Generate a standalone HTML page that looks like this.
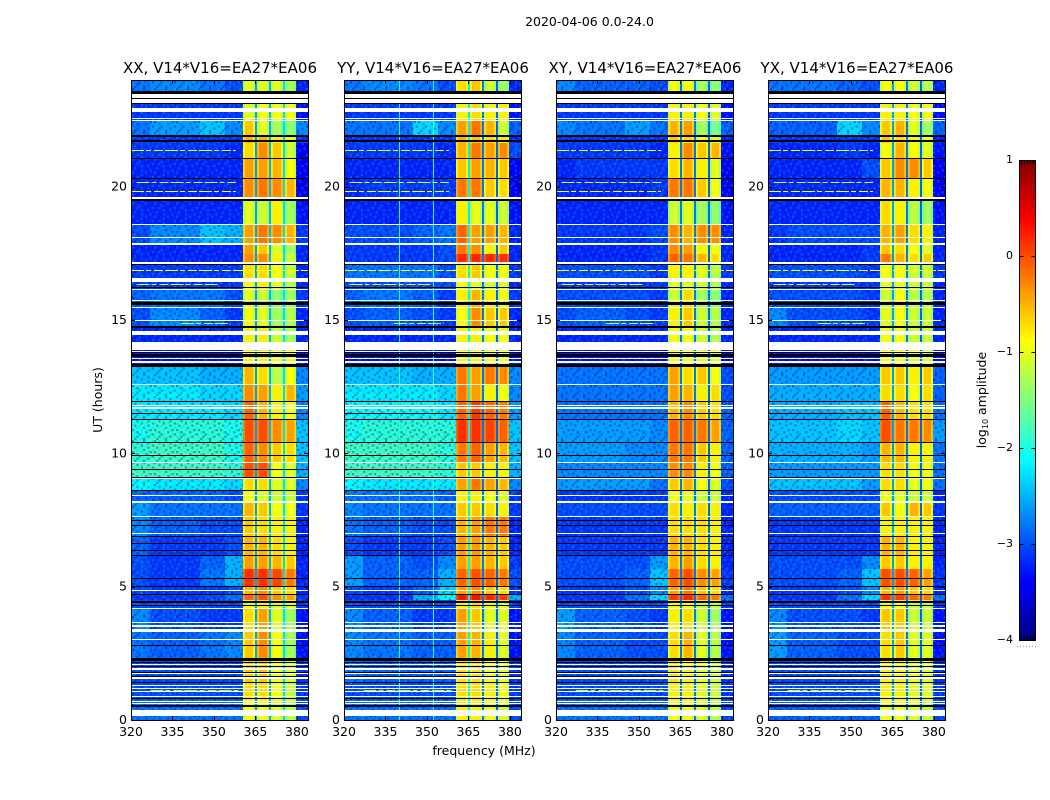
<!DOCTYPE html>
<html lang="en">
<head>
<meta charset="utf-8">
<title>2020-04-06 0.0-24.0</title>
<style>
html,body{margin:0;padding:0;background:#fff;}
svg{display:block;}
text{font-family:"DejaVu Sans","Liberation Sans",sans-serif;fill:#000;}
</style>
</head>
<body>
<svg id="fig" xmlns="http://www.w3.org/2000/svg" width="1050" height="800" viewBox="0 0 1050 800">
<defs>
<pattern id="speckle" width="22" height="22" patternUnits="userSpaceOnUse"></pattern>
<linearGradient id="jet-gradient" x1="0" y1="1" x2="0" y2="0"></linearGradient>
</defs>
<rect x="0" y="0" width="1050" height="800" fill="#fff"/>
<text x="589.5" y="26" font-size="12.5" text-anchor="middle">2020-04-06 0.0-24.0</text>
<text x="484" y="755" font-size="12.5" text-anchor="middle">frequency (MHz)</text>
<text x="102" y="400" font-size="12.5" text-anchor="middle" transform="rotate(-90 102 400)">UT (hours)</text>
<text x="986" y="400" font-size="12.5" text-anchor="middle" transform="rotate(-90 986 400)">log<tspan font-size="8" dy="2">10</tspan><tspan dy="-2"> amplitude</tspan></text>
<g id="panels"></g>
<g id="colorbar"></g>
</svg>
<script>
// ---------- chart data (hours, MHz, log10 amplitude) ----------
const panelTitles = ["XX, V14*V16=EA27*EA06", "YY, V14*V16=EA27*EA06", "XY, V14*V16=EA27*EA06", "YX, V14*V16=EA27*EA06"];
const xTicks = [320, 335, 350, 365, 380];
const yTicks = [0, 5, 10, 15, 20];
const colorbarTicks = [1, 0, -1, -2, -3, -4];
const utEdges = [24,23.59,23.14,22.46,21.9,21.64,21.08,20.29,19.5,18.6,17.85,17.48,17.18,16.58,16.16,15.49,14.74,14.18,13.24,12.56,11.93,11.29,10.39,9.68,9.08,8.59,8.18,7.61,6.9,6.19,5.66,4.99,4.71,4.5,4.2,3.34,2.25,1.43,0.75,0];
// frequency columns: four low-band blocks, four sub-bands, high band
const freqColumns = [[320,327],[327,345],[345,354],[354,360.4],[360.4,364.8],[365.5,369.9],[370.6,374.9],[375.6,379.7],[379.7,384]];
const notchColumns = [[364.8,365.5],[369.9,370.6],[374.9,375.6]];
const notchXX = [-2.6,-2.5,-2.3];
const notchYY = [-2.2,-2.8,-2.9];
const notchXY = [-2.8,-2.8,-2.9];
const notchYX = [-2.6,-2.8,-2.9];
const panelNotches = [notchXX, notchYY, notchXY, notchYX];

const levelsXX = [
[-2.8,-2.7,-2.8,-3.0,-1.0,-1.0,-1.0,-1.3,-3.2],
[-3.1,-3.1,-3.1,-3.1,-0.9,-0.9,-0.9,-1.0,-3.3],
[-3.1,-3.1,-3.1,-3.1,-1.0,-0.9,-0.9,-0.9,-3.3],
[-2.8,-2.6,-2.4,-2.7,-0.6,-1.0,-1.3,-1.4,-2.7],
[-3.1,-3.1,-3.1,-3.1,-0.5,-0.5,-0.8,-1.0,-3.1],
[-3.1,-3.1,-3.1,-3.2,-0.7,-0.3,-0.6,-1.1,-3.4],
[-3.2,-3.2,-3.2,-3.2,-0.4,-0.4,-0.5,-0.9,-3.4],
[-3.2,-3.2,-3.2,-3.2,-0.3,-0.2,-0.3,-0.5,-3.4],
[-3.2,-3.2,-3.2,-3.2,-1.0,-1.1,-0.8,-1.3,-3.3],
[-3.0,-2.7,-2.4,-2.5,-0.4,-0.2,-0.3,-0.5,-3.1],
[-3.2,-3.2,-3.2,-3.2,-0.4,-0.6,-1.0,-1.3,-3.2],
[-3.2,-3.2,-3.2,-3.2,-0.3,-0.3,-0.8,-1.1,-3.2],
[-3.1,-3.1,-3.1,-3.1,-0.7,-0.7,-0.9,-1.1,-3.2],
[-3.1,-3.1,-3.1,-3.1,-0.9,-0.8,-1.0,-1.2,-3.2],
[-2.9,-2.8,-2.8,-3.0,-1.0,-1.1,-1.4,-1.3,-3.1],
[-3.0,-2.7,-2.9,-3.1,-0.9,-1.0,-1.3,-1.2,-3.2],
[-3.2,-3.2,-3.2,-3.2,-0.8,-0.8,-1.1,-1.3,-3.2],
[-3.3,-3.3,-3.3,-3.3,-0.8,-0.8,-0.9,-0.9,-3.3],
[-2.4,-2.4,-2.5,-2.5,-0.5,-0.7,-1.2,-0.9,-2.7],
[-2.2,-2.2,-2.3,-2.3,-0.3,-0.4,-0.8,-0.5,-2.6],
[-2.2,-2.2,-2.2,-2.3,-0.1,-0.5,-0.8,-0.9,-2.7],
[-2.0,-1.9,-1.9,-2.0,0.0,0.0,-0.3,-0.4,-2.4],
[-1.9,-1.8,-1.8,-2.0,-0.1,-0.3,-0.6,-0.7,-2.4],
[-1.8,-1.8,-1.8,-1.9,0.0,0.0,-0.9,-1.0,-2.5],
[-2.1,-2.2,-2.2,-2.3,-0.7,-0.7,-1.0,-1.0,-2.7],
[-2.9,-2.9,-2.9,-3.0,-0.9,-1.0,-1.1,-1.1,-3.1],
[-2.6,-2.8,-2.8,-2.8,-0.5,-0.6,-0.9,-0.9,-3.1],
[-2.7,-2.9,-3.0,-3.0,-0.6,-0.7,-0.8,-0.8,-3.2],
[-2.9,-3.1,-3.1,-3.0,-0.5,-0.5,-0.7,-0.8,-3.2],
[-3.0,-3.1,-2.9,-2.5,-0.4,-0.4,-0.5,-0.6,-3.2],
[-3.0,-3.1,-2.8,-2.5,0.15,0.15,0.05,-0.2,-3.2],
[-3.0,-3.1,-3.1,-3.0,-0.5,-0.3,-0.6,-0.7,-3.2],
[-3.1,-3.1,-3.0,-2.8,-0.1,0.0,-0.3,-0.4,-3.1],
[-3.0,-3.0,-3.0,-3.0,-0.9,-0.8,-1.0,-1.0,-3.1],
[-2.7,-3.0,-3.1,-3.1,-0.7,-0.4,-1.0,-1.3,-3.3],
[-2.8,-2.9,-2.8,-2.7,-0.6,-0.3,-0.9,-1.3,-3.3],
[-3.0,-3.0,-3.0,-3.0,-0.6,-0.6,-0.9,-1.0,-3.1],
[-3.0,-3.0,-3.0,-3.0,-0.7,-0.7,-0.9,-1.1,-3.1],
[-2.8,-2.8,-2.8,-2.8,-0.9,-0.9,-1.0,-1.2,-3.0]
];
const levelsYY = [
[-2.8,-2.7,-2.8,-3.0,-0.7,-0.6,-1.1,-1.3,-3.2],
[-3.1,-3.1,-3.1,-3.1,-0.8,-0.8,-0.9,-1.0,-3.3],
[-3.1,-3.1,-3.1,-3.1,-0.8,-0.7,-0.8,-0.8,-3.3],
[-2.8,-2.8,-2.3,-2.7,-0.4,-0.2,-0.5,-1.1,-2.9],
[-3.1,-3.1,-3.1,-3.1,-0.5,-0.6,-0.7,-0.8,-3.2],
[-3.1,-3.1,-3.1,-3.2,-0.5,-0.2,-0.4,-0.3,-3.0],
[-3.2,-3.2,-3.2,-3.2,-0.6,-0.4,-0.5,-0.6,-3.4],
[-3.2,-3.1,-3.1,-3.1,-0.2,-0.2,-0.6,-0.7,-3.4],
[-3.2,-3.2,-3.2,-3.2,-0.8,-1.0,-1.0,-1.1,-3.3],
[-3.0,-3.0,-2.9,-2.8,-0.1,-0.4,-0.4,-0.5,-3.2],
[-3.1,-3.1,-3.1,-3.0,-0.2,-0.3,-0.8,-0.6,-3.2],
[-3.1,-3.1,-3.1,-3.0,0.2,0.2,0.2,0.15,-3.2],
[-2.8,-2.8,-2.8,-3.0,-0.7,-0.6,-0.9,-0.9,-3.1],
[-3.0,-3.0,-3.0,-3.0,-0.9,-1.0,-1.1,-1.0,-3.2],
[-2.9,-2.8,-2.9,-3.1,-0.8,-0.5,-0.8,-0.9,-3.1],
[-3.0,-2.9,-3.0,-3.1,-0.9,-0.3,-0.6,-0.6,-3.2],
[-3.2,-3.2,-3.2,-3.2,-0.8,-0.8,-0.9,-0.9,-3.2],
[-3.3,-3.3,-3.3,-3.3,-0.8,-0.8,-0.9,-0.9,-3.3],
[-2.4,-2.4,-2.5,-2.5,-0.2,-0.4,-0.2,-0.3,-2.7],
[-2.2,-2.2,-2.2,-2.3,-0.2,-0.4,-0.8,-0.9,-2.7],
[-2.1,-2.1,-2.1,-2.2,-0.1,0.1,-0.1,-0.2,-2.6],
[-2.0,-1.9,-1.9,-1.9,0.15,0.15,0.05,-0.1,-2.4],
[-1.8,-1.8,-1.8,-1.9,-0.2,-0.1,-0.4,-0.5,-2.4],
[-1.8,-1.8,-1.8,-1.9,-0.6,-0.6,-0.8,-0.8,-2.5],
[-2.1,-2.2,-2.2,-2.2,-0.4,-0.2,-0.4,-0.5,-2.7],
[-2.8,-2.8,-2.8,-2.9,-0.8,-0.8,-0.9,-1.0,-3.1],
[-2.7,-2.8,-2.8,-2.8,-0.6,-0.6,-0.7,-0.8,-3.1],
[-2.8,-2.9,-3.0,-3.0,-0.5,-0.4,-0.2,-0.2,-3.2],
[-3.0,-3.1,-3.1,-3.0,-0.4,-0.4,-0.5,-0.6,-3.2],
[-2.6,-2.9,-3.0,-2.7,-0.4,-0.4,-0.5,-0.6,-3.1],
[-2.6,-2.9,-2.9,-2.5,-0.1,0.0,-0.1,-0.2,-3.0],
[-3.0,-3.1,-2.9,-2.3,-0.4,-0.3,-0.6,-0.7,-3.1],
[-3.1,-3.1,-2.5,-2.1,0.3,0.3,0.2,0.1,-2.5],
[-3.0,-3.0,-3.0,-3.0,-0.8,-0.7,-0.9,-1.0,-3.1],
[-2.7,-2.9,-3.1,-3.1,-0.4,-0.6,-1.0,-1.0,-3.3],
[-2.7,-2.8,-2.9,-2.9,-0.4,-0.5,-0.8,-1.0,-3.3],
[-2.8,-2.9,-2.9,-2.9,-0.7,-0.7,-0.9,-1.0,-3.1],
[-3.0,-3.0,-3.0,-3.0,-0.7,-0.7,-0.8,-0.9,-3.1],
[-2.8,-2.8,-2.8,-2.8,-0.8,-0.8,-0.9,-1.0,-3.0]
];
const levelsXY = [
[-2.7,-2.9,-2.9,-3.0,-0.9,-0.9,-1.3,-1.4,-3.2],
[-3.1,-3.1,-3.1,-3.1,-0.9,-0.9,-1.0,-1.1,-3.3],
[-3.1,-3.1,-3.1,-3.1,-0.8,-0.8,-0.9,-1.0,-3.3],
[-2.7,-2.8,-2.6,-2.8,-0.5,-0.4,-1.3,-1.5,-2.9],
[-3.1,-3.1,-3.1,-3.1,-0.6,-0.7,-0.9,-1.0,-3.2],
[-3.1,-3.1,-3.1,-3.2,-0.8,-0.3,-0.6,-0.5,-3.3],
[-3.2,-3.1,-3.1,-3.1,-0.7,-0.5,-0.8,-1.0,-3.4],
[-3.2,-3.2,-3.2,-3.1,-0.2,-0.2,-0.6,-0.9,-3.4],
[-3.2,-3.2,-3.2,-3.2,-1.1,-1.0,-1.3,-1.4,-3.3],
[-3.1,-3.1,-3.1,-3.0,-0.3,-0.5,-0.3,-0.3,-3.2],
[-3.2,-3.2,-3.2,-3.1,-0.3,-0.4,-0.8,-0.9,-3.2],
[-3.2,-3.2,-3.2,-3.1,-0.1,-0.2,-0.5,-0.7,-3.2],
[-3.0,-3.0,-3.0,-3.1,-0.8,-0.8,-1.0,-1.2,-3.1],
[-3.1,-3.1,-3.1,-3.1,-1.0,-1.0,-1.1,-1.2,-3.2],
[-3.0,-3.0,-3.0,-3.1,-1.1,-0.7,-1.3,-1.4,-3.2],
[-3.0,-2.9,-3.0,-3.1,-0.8,-0.6,-1.1,-1.2,-3.2],
[-3.2,-3.2,-3.2,-3.2,-0.9,-0.9,-1.1,-1.2,-3.2],
[-3.3,-3.3,-3.3,-3.3,-0.9,-0.9,-1.0,-1.0,-3.3],
[-2.8,-2.8,-2.8,-2.8,-0.4,-0.7,-0.6,-0.9,-3.0],
[-2.8,-2.8,-2.8,-2.8,-0.4,-0.5,-0.8,-0.7,-3.0],
[-2.8,-2.8,-2.8,-2.8,-0.5,-0.3,-0.6,-0.7,-2.9],
[-2.6,-2.6,-2.6,-2.7,-0.1,-0.1,-0.2,-0.4,-2.9],
[-2.6,-2.6,-2.7,-2.7,-0.2,-0.2,-0.6,-0.8,-2.9],
[-2.7,-2.7,-2.7,-2.7,-0.3,-0.3,-0.8,-0.9,-2.9],
[-2.6,-2.6,-2.6,-2.8,-0.6,-0.5,-0.9,-1.0,-3.0],
[-3.1,-3.1,-3.1,-3.1,-0.9,-1.0,-1.1,-1.1,-3.2],
[-3.0,-3.0,-3.0,-3.0,-0.7,-0.8,-0.7,-0.8,-3.2],
[-3.1,-3.1,-3.1,-3.1,-0.7,-0.7,-0.7,-0.8,-3.2],
[-3.1,-3.1,-3.1,-3.1,-0.5,-0.5,-0.7,-0.8,-3.2],
[-3.0,-3.0,-3.0,-2.6,-0.5,-0.4,-0.7,-0.8,-3.2],
[-3.0,-3.0,-2.9,-2.4,-0.1,0.0,-0.3,-0.4,-3.1],
[-3.1,-3.1,-3.0,-2.7,-0.4,-0.2,-0.6,-0.7,-3.2],
[-3.1,-3.1,-2.8,-2.3,0.1,0.2,-0.1,-0.2,-2.8],
[-3.0,-3.0,-3.0,-3.0,-0.9,-0.9,-1.1,-1.1,-3.1],
[-2.6,-2.9,-3.0,-3.1,-0.8,-0.7,-1.1,-1.3,-3.3],
[-2.7,-2.9,-3.0,-3.0,-0.7,-0.5,-1.0,-1.2,-3.3],
[-3.0,-3.0,-3.0,-3.0,-0.7,-0.8,-1.0,-1.1,-3.1],
[-3.0,-3.0,-3.0,-3.0,-0.8,-0.8,-1.0,-1.1,-3.1],
[-2.8,-2.8,-2.8,-2.8,-0.9,-0.9,-1.0,-1.2,-3.0]
];
const levelsYX = [
[-2.8,-2.8,-2.9,-3.0,-0.9,-0.9,-1.1,-1.2,-3.2],
[-3.1,-3.1,-3.1,-3.1,-0.9,-0.9,-1.0,-1.0,-3.3],
[-3.1,-3.1,-3.1,-3.1,-0.8,-0.8,-0.9,-0.9,-3.3],
[-2.9,-2.9,-2.3,-2.7,-0.6,-0.5,-1.0,-1.3,-2.9],
[-3.1,-3.1,-3.1,-3.1,-0.6,-0.7,-0.9,-0.9,-3.2],
[-3.2,-3.2,-3.1,-3.2,-0.9,-0.5,-0.9,-1.0,-3.3],
[-3.2,-3.2,-3.2,-3.0,-0.6,-0.3,-0.3,-0.6,-3.4],
[-3.2,-3.2,-3.2,-3.2,-0.5,-0.5,-0.8,-0.9,-3.4],
[-3.2,-3.2,-3.2,-3.2,-0.7,-0.8,-1.2,-1.3,-3.3],
[-3.1,-3.0,-3.0,-3.0,-0.5,-0.4,-0.7,-0.8,-3.2],
[-3.2,-3.2,-3.2,-3.1,-0.6,-0.7,-0.9,-1.0,-3.2],
[-3.2,-3.2,-3.2,-3.1,-0.2,-0.5,-0.7,-0.6,-3.2],
[-3.0,-3.0,-3.0,-3.1,-0.9,-0.9,-1.1,-1.1,-3.1],
[-3.1,-3.1,-3.1,-3.1,-1.0,-1.0,-1.1,-1.1,-3.2],
[-3.0,-3.0,-3.0,-3.1,-1.1,-0.9,-1.2,-1.2,-3.2],
[-2.7,-3.0,-3.0,-3.1,-1.0,-0.9,-1.1,-1.1,-3.2],
[-3.2,-3.2,-3.2,-3.2,-0.9,-0.9,-1.1,-1.1,-3.2],
[-3.3,-3.3,-3.3,-3.3,-0.9,-0.9,-1.0,-1.0,-3.3],
[-2.6,-2.6,-2.6,-2.6,-0.6,-0.6,-0.8,-0.6,-2.9],
[-2.5,-2.5,-2.5,-2.5,-0.7,-0.7,-0.9,-0.7,-2.9],
[-2.5,-2.5,-2.4,-2.4,-0.1,-0.5,-0.7,-0.7,-2.8],
[-2.4,-2.4,-2.3,-2.4,0.0,-0.2,-0.2,-0.3,-2.6],
[-2.5,-2.5,-2.5,-2.6,-0.5,-0.5,-0.8,-0.8,-2.8],
[-2.6,-2.6,-2.6,-2.6,-0.7,-0.7,-0.9,-0.9,-2.8],
[-2.4,-2.4,-2.4,-2.6,-0.7,-0.7,-1.0,-0.9,-2.8],
[-3.0,-3.0,-3.0,-3.0,-0.9,-1.0,-1.1,-1.1,-3.2],
[-2.9,-2.9,-2.9,-2.9,-0.6,-0.9,-0.5,-0.6,-3.1],
[-3.1,-3.1,-3.1,-3.1,-0.8,-0.8,-0.8,-0.8,-3.2],
[-3.1,-3.1,-3.1,-3.1,-0.5,-0.5,-0.8,-0.8,-3.2],
[-3.0,-3.0,-3.0,-2.7,-0.6,-0.6,-0.8,-0.8,-3.2],
[-3.0,-3.0,-2.9,-2.4,0.0,0.0,-0.1,-0.4,-3.1],
[-3.1,-3.1,-3.0,-2.7,-0.5,-0.4,-0.6,-0.7,-3.2],
[-3.1,-3.1,-2.8,-2.3,0.15,0.1,-0.1,-0.2,-2.8],
[-3.0,-3.0,-3.0,-3.0,-0.9,-0.9,-1.1,-1.1,-3.1],
[-2.7,-3.0,-3.0,-3.1,-0.6,-0.6,-1.1,-1.1,-3.3],
[-2.6,-2.9,-3.0,-3.0,-0.7,-0.6,-1.0,-1.0,-3.3],
[-3.0,-3.0,-3.0,-3.0,-0.8,-0.8,-1.0,-1.0,-3.1],
[-3.0,-3.0,-3.0,-3.0,-0.8,-0.8,-1.0,-1.0,-3.1],
[-2.9,-2.9,-2.9,-2.9,-0.9,-0.9,-1.0,-1.1,-3.0]
];
const panelLevels = [levelsXX, levelsYY, levelsXY, levelsYX];

// flagged UT intervals [from, to] in hours, no-data (white) and masked (black)
const whiteFlags = [[23.46,23.33],[23.29,23.14],[22.95,22.8],[22.58,22.54],[22.51,22.47],[19.62,19.53],[18.61,18.56],[18.11,18.07],[17.89,17.82],[17.19,17.1],[16.59,16.43],[16.16,16.12],[15.75,15.71],[15.5,15.46],[14.99,14.95],[14.6,14.43],[14.18,13.88],[13.83,13.76],[13.59,13.54],[13.46,13.4],[12.59,12.55],[11.81,11.77],[11.74,11.68],[9.66,9.63],[9.08,9.04],[8.42,8.39],[8.21,8.14],[7.65,7.62],[7.01,6.98],[4.88,4.84],[4.2,4.16],[3.68,3.64],[3.56,3.5],[3.4,3.31],[3.03,2.99],[2.1,2.06],[1.96,1.88],[1.75,1.71],[1.6,1.55],[1.31,1.27],[1.21,1.17],[1.09,1.05],[0.9,0.875],[0.71,0.68],[0.64,0.6],[0.375,0.15]];
const blackFlags = [[23.59,23.46],[23.33,23.29],[23.14,23.12],[21.93,21.85],[21.74,21.66],[21.08,21.04],[20.31,20.28],[19.53,19.47],[17.1,17.07],[16.24,16.21],[15.68,15.56],[14.78,14.7],[13.8,13.76],[13.72,13.63],[13.35,13.24],[11.96,11.93],[11.52,11.49],[11.3,11.27],[10.42,10.39],[9.95,9.92],[9.43,9.41],[9.12,9.1],[8.61,8.59],[7.5,7.46],[7.31,7.29],[6.9,6.86],[6.65,6.63],[6.38,6.35],[6.19,6.16],[5.34,5.32],[5.04,5],[4.71,4.68],[4.47,4.4],[4.33,4.31],[2.8,2.78],[2.31,2.22],[2.19,2.13],[2.04,2.01],[1.81,1.77],[1.65,1.62],[1.44,1.38],[0.84,0.8],[0.56,0.5]];
// narrowband interference rows: [UT, start MHz, end MHz, log10 amplitude]
const rfiRows = [[21.38,320,358,-1.0],[20.16,322,358,-1.2],[19.85,320,358,-0.9],[16.86,320,384,-0.9],[16.35,322,352,-1.1],[14.89,338,356,-1.2],[11.51,320,358,-1.1],[1.12,327,360,-1.2]];
// persistent bright channels per panel: MHz
const brightChannelsXX = [];
const brightChannelsYY = [339.9, 352];
const brightChannelsXY = [];
const brightChannelsYX = [];
const panelChannels = [brightChannelsXX, brightChannelsYY, brightChannelsXY, brightChannelsYX];
const channelLevel = -1.9;
const subbandEdgeDrop = 0.25;

// ---------- axis functions ----------
const panelLefts = [131, 344, 556, 768];
const panelWidth = 177, plotTop = 80, plotBottom = 720, xMin = 320, xMax = 384, utMax = 24;
function xScale(left, f) { return left + (f - xMin) / (xMax - xMin) * panelWidth; }
function yScale(h) { return plotBottom - h / utMax * (plotBottom - plotTop); }
const cbarLeft = 1019, cbarWidth = 16, cbarTop = 160, cbarBottom = 640, cMax = 1, cMin = -4;
function cScale(v) { return cbarBottom - (v - cMin) / (cMax - cMin) * (cbarBottom - cbarTop); }
function clamp01(a) { return Math.max(0, Math.min(1, a)); }
function jet(v) {
  const t = clamp01((v - cMin) / (cMax - cMin));
  const r = clamp01(1.5 - Math.abs(4 * t - 3));
  const g = clamp01(1.5 - Math.abs(4 * t - 2));
  const b = clamp01(1.5 - Math.abs(4 * t - 1));
  return "rgb(" + Math.round(r * 255) + "," + Math.round(g * 255) + "," + Math.round(b * 255) + ")";
}
const NS = "http://www.w3.org/2000/svg";
function make(tag, parent) { const el = document.createElementNS(NS, tag); parent.appendChild(el); return el; }
function box(el, x0, x1, y0, y1, fill) {
  const x = Math.round(x0), y = Math.round(y0);
  el.setAttribute("x", x);
  el.setAttribute("y", y);
  el.setAttribute("width", Math.max(1, Math.round(x1) - x));
  el.setAttribute("height", Math.max(1, Math.round(y1) - y));
  el.setAttribute("fill", fill);
  el.setAttribute("shape-rendering", "crispEdges");
}

// ---------- speckle texture tile (purely decorative) ----------
const speckleTile = [
  "-.+..-...+",
  "..-.+..-..",
  "+...-.+..-",
  ".-.+...-..",
  "..+..-...+",
  "-...+..+-.",
  ".+-...-...",
  "...-+...+-",
  "+.-...+-..",
  ".-..+-...."
];
const specklePattern = document.getElementById("speckle");
speckleTile.forEach(function (rowText, r) {
  rowText.split("").forEach(function (ch, c) {
    if (ch === ".") return;
    const dot = make("rect", specklePattern);
    dot.setAttribute("x", c * 2.2);
    dot.setAttribute("y", r * 2.2);
    dot.setAttribute("width", 2.2);
    dot.setAttribute("height", 2.2);
    dot.setAttribute("fill", ch === "-" ? "#000090" : "#00b4ff");
    dot.setAttribute("opacity", ch === "-" ? "0.38" : "0.32");
  });
});

// ---------- panels ----------
const panelsGroup = document.getElementById("panels");
panelTitles.forEach(function (title, p) {
  const left = panelLefts[p];
  const levels = panelLevels[p];
  const g = make("g", panelsGroup);
  
  

  levels.forEach(function (row, r) {
    const y0 = yScale(utEdges[r]), y1 = yScale(utEdges[r + 1]);
    row.forEach(function (value, c) {
      const isSub = c >= 4 && c <= 7;
      const cell = make("rect", g);
      
      
      box(cell, xScale(left, freqColumns[c][0]), xScale(left, freqColumns[c][1]), y0, y1, jet(isSub ? value - subbandEdgeDrop : value));
      if (isSub) {
        const core = make("rect", g);
        
        
        box(core, xScale(left, freqColumns[c][0] + 0.7), xScale(left, freqColumns[c][1] - 0.7), y0, y1, jet(value));
      }
    });
    notchColumns.forEach(function (n, k) {
      const notch = make("rect", g);
      
      
      box(notch, xScale(left, n[0]), xScale(left, n[1]), y0, y1, jet(panelNotches[p][k]));
    });
  });

  [[320, 360.4], [379.7, 384]].forEach(function (span) {
    const tex = make("rect", g);
    
    
    box(tex, xScale(left, span[0]), xScale(left, span[1]), plotTop, plotBottom, "url(#speckle)");
  });

  panelChannels[p].forEach(function (f) {
    const line = make("rect", g);
    
    
    box(line, xScale(left, f), xScale(left, f) + 1, plotTop, plotBottom, jet(channelLevel));
  });

  rfiRows.forEach(function (rfi) {
    const line = make("line", g);
    
    
    line.setAttribute("x1", xScale(left, rfi[1]));
    line.setAttribute("x2", xScale(left, rfi[2]));
    line.setAttribute("y1", Math.round(yScale(rfi[0])) + 0.5);
    line.setAttribute("y2", Math.round(yScale(rfi[0])) + 0.5);
    line.setAttribute("stroke", jet(rfi[3]));
    line.setAttribute("stroke-dasharray", "13 2 5 3 9 2");
    line.setAttribute("shape-rendering", "crispEdges");
  });

  whiteFlags.forEach(function (f) {
    const band = make("rect", g);
    
    
    box(band, left, left + panelWidth, yScale(f[0]), yScale(f[1]), "#fff");
  });
  blackFlags.forEach(function (f) {
    const band = make("rect", g);
    
    
    box(band, left, left + panelWidth, yScale(f[0]), yScale(f[1]), "#000");
  });

  const frame = make("rect", g);
  
  
  frame.setAttribute("x", left + 0.5);
  frame.setAttribute("y", plotTop + 0.5);
  frame.setAttribute("width", panelWidth);
  frame.setAttribute("height", plotBottom - plotTop);
  frame.setAttribute("fill", "none");
  frame.setAttribute("stroke", "#000");
  frame.setAttribute("stroke-width", "1");

  const head = make("text", g);
  
  
  head.setAttribute("x", left + panelWidth / 2 + 0.5);
  head.setAttribute("y", 73);
  head.setAttribute("font-size", "15");
  head.setAttribute("text-anchor", "middle");
  head.textContent = title;

  xTicks.forEach(function (t) {
    const x = Math.round(xScale(left, t)) + 0.5;
    [[plotBottom, plotBottom - 4], [plotTop, plotTop + 4]].forEach(function (ends) {
      const tick = make("line", g);
      
      
      tick.setAttribute("x1", x);
      tick.setAttribute("x2", x);
      tick.setAttribute("y1", ends[0]);
      tick.setAttribute("y2", ends[1]);
      tick.setAttribute("stroke", "#000");
    });
    const label = make("text", g);
    
    
    label.setAttribute("x", xScale(left, t));
    label.setAttribute("y", 736);
    label.setAttribute("font-size", "12.5");
    label.setAttribute("text-anchor", "middle");
    label.textContent = String(t);
  });

  yTicks.forEach(function (t) {
    const y = Math.round(yScale(t)) + 0.5;
    [[left, left + 4], [left + panelWidth, left + panelWidth - 4]].forEach(function (ends) {
      const tick = make("line", g);
      
      
      tick.setAttribute("x1", ends[0]);
      tick.setAttribute("x2", ends[1]);
      tick.setAttribute("y1", y);
      tick.setAttribute("y2", y);
      tick.setAttribute("stroke", "#000");
    });
    const label = make("text", g);
    
    
    label.setAttribute("x", left - 4);
    label.setAttribute("y", yScale(t) + 4);
    label.setAttribute("font-size", "12.5");
    label.setAttribute("text-anchor", "end");
    label.textContent = String(t);
  });
});

// ---------- colorbar ----------
const grad = document.getElementById("jet-gradient");
for (let i = 0; i <= 32; i++) {
  const stop = make("stop", grad);
  stop.setAttribute("offset", (i / 32 * 100) + "%");
  stop.setAttribute("stop-color", jet(cMin + (cMax - cMin) * i / 32));
}
const cbar = document.getElementById("colorbar");
const ramp = make("rect", cbar);


ramp.setAttribute("x", cbarLeft + 0.5);
ramp.setAttribute("y", cbarTop + 0.5);
ramp.setAttribute("width", cbarWidth);
ramp.setAttribute("height", cbarBottom - cbarTop);
ramp.setAttribute("fill", "url(#jet-gradient)");
ramp.setAttribute("stroke", "#000");

[1021, 1024, 1027, 1030, 1033].forEach(function (x) {
  [[cbarTop, cbarTop + 4], [cbarBottom, cbarBottom - 4]].forEach(function (ends) {
    const tick = make("line", cbar);
    
    
    tick.setAttribute("x1", x + 0.5);
    tick.setAttribute("x2", x + 0.5);
    tick.setAttribute("y1", ends[0]);
    tick.setAttribute("y2", ends[1]);
    tick.setAttribute("stroke", "#000");
  });
});

colorbarTicks.forEach(function (v) {
  const y = Math.round(cScale(v)) + 0.5;
  [[cbarLeft, cbarLeft + 4], [cbarLeft + cbarWidth, cbarLeft + cbarWidth - 4]].forEach(function (ends) {
    const tick = make("line", cbar);
    
    
    tick.setAttribute("x1", ends[0] + 0.5);
    tick.setAttribute("x2", ends[1] + 0.5);
    tick.setAttribute("y1", y);
    tick.setAttribute("y2", y);
    tick.setAttribute("stroke", "#000");
  });
  const label = make("text", cbar);
  
  
  label.setAttribute("x", 1013);
  label.setAttribute("y", cScale(v) + 3);
  label.setAttribute("font-size", "11");
  label.setAttribute("text-anchor", "end");
  label.textContent = v < 0 ? "\u2212" + Math.abs(v) : String(v);
});

const dots = make("line", cbar);


dots.setAttribute("x1", 1017);
dots.setAttribute("x2", 1036);
dots.setAttribute("y1", 646.5);
dots.setAttribute("y2", 646.5);
dots.setAttribute("stroke", "#999");
dots.setAttribute("stroke-dasharray", "1 2");
</script>
</body>
</html>
